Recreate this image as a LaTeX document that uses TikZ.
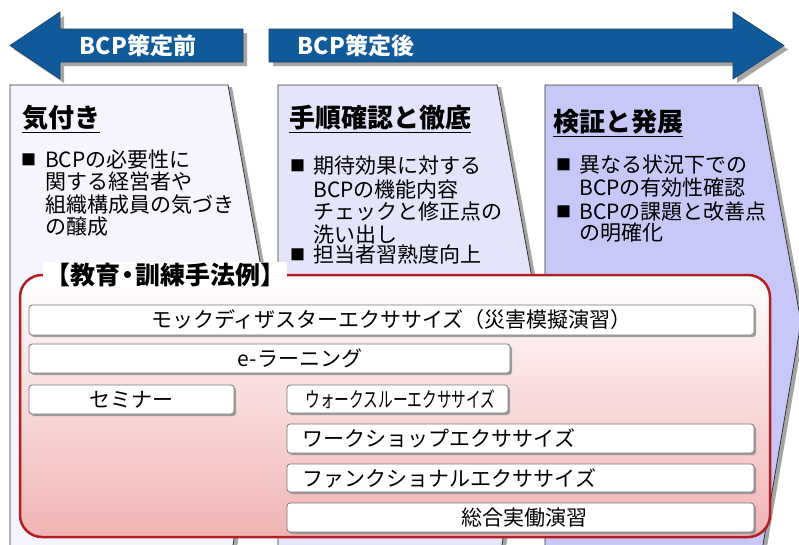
\documentclass[tikz,border=0pt]{standalone}
\usepackage{fontspec}
\usepackage{graphicx}
\setmainfont{Noto Sans CJK JP}
\usetikzlibrary{shadows}
\definecolor{arrowblue}{RGB}{16,90,155}
\definecolor{arrowedge}{RGB}{25,60,105}
\definecolor{shadowgray}{RGB}{165,165,165}
\definecolor{pfillA}{RGB}{245,245,253}
\definecolor{pfillB}{RGB}{228,228,250}
\definecolor{pfillC}{RGB}{200,200,248}
\definecolor{redline}{RGB}{178,30,35}
\definecolor{pinkbot}{RGB}{241,180,180}
\definecolor{pinkmid}{RGB}{249,226,226}
\definecolor{boxedge}{RGB}{120,120,120}
\tikzset{
  bigarrow/.style={fill=arrowblue, draw=arrowedge, line width=0.6pt},
  arrowshadow/.style={fill=shadowgray},
  panel/.style={draw=black!80, line width=0.8pt},
  arrowtext/.style={text=white, font=\fontsize{23}{23}\selectfont\bfseries, inner sep=0pt},
  ptitle/.style={font=\fontsize{26}{26}\selectfont\bfseries, anchor=west, inner sep=0pt},
  pline/.style={font=\fontsize{21}{21}\selectfont, anchor=west, inner sep=0pt},
  pbullet/.style={font=\fontsize{15}{15}\selectfont, anchor=west, inner sep=0pt},
  ibox/.style={draw=boxedge, fill=white, line width=0.8pt, rounded corners=3pt, inner sep=0pt,
    drop shadow={shadow xshift=2pt, shadow yshift=-2pt, fill=black!45, opacity=0.8}},
  itext/.style={font=\fontsize{21}{21}\selectfont, inner sep=0pt},
}
\begin{document}
\begin{tikzpicture}[x=1pt,y=-1pt]
\clip (0,0) rectangle (799,544);
% ---- big arrows
\fill[arrowshadow, shift={(4,4)}] (10,45.5) -- (60,12) -- (60,29) -- (243,29) -- (243,62) -- (60,62) -- (60,79) -- cycle;
\path[bigarrow] (10,45.5) -- (60,12) -- (60,29) -- (243,29) -- (243,62) -- (60,62) -- (60,79) -- cycle;
\fill[arrowshadow, shift={(4,4)}] (269,29) -- (733,29) -- (733,12) -- (784,45.5) -- (733,79) -- (733,62) -- (269,62) -- cycle;
\path[bigarrow] (269,29) -- (733,29) -- (733,12) -- (784,45.5) -- (733,79) -- (733,62) -- (269,62) -- cycle;
\node[arrowtext] (before) at (138,46) {BCP策定前};
\node[arrowtext] (after) at (356,46) {BCP策定後};
% ---- panels
\fill[shadowgray, shift={(4,2)}] (10,85) -- (228,85) -- (271,322) -- (227,580) -- (10,580) -- cycle;
\path[panel, fill=pfillA] (10,85) -- (228,85) -- (271,322) -- (227,580) -- (10,580) -- cycle;
\fill[shadowgray, shift={(4,2)}] (278,85) -- (497,85) -- (540,322) -- (496,580) -- (278,580) -- cycle;
\path[panel, fill=pfillB] (278,85) -- (497,85) -- (540,322) -- (496,580) -- (278,580) -- cycle;
\fill[shadowgray, shift={(4,2)}] (545,85) -- (758,85) -- (801,322) -- (757,580) -- (545,580) -- cycle;
\path[panel, fill=pfillC] (545,85) -- (758,85) -- (801,322) -- (757,580) -- (545,580) -- cycle;
% panel titles
\node[ptitle] (t1) at (22,118) {気付き};
\draw[line width=0.8pt] ([yshift=-2pt]t1.south west) -- ([yshift=-2pt]t1.south east);
\node[ptitle] (t2) at (289,118) {手順確認と徹底};
\draw[line width=0.8pt] ([yshift=-2pt]t2.south west) -- ([yshift=-2pt]t2.south east);
\node[ptitle] (t3) at (553,122) {検証と発展};
\draw[line width=0.8pt] ([yshift=-2pt]t3.south west) -- ([yshift=-2pt]t3.south east);
% panel 1 text
\node[pbullet] (p1b1) at (21,160) {■};
\node[pline] (p1l1) at (45,160) {BCPの必要性に};
\node[pline] (p1l2) at (45,182) {関する経営者や};
\node[pline] (p1l3) at (45,205) {組織構成員の気づき};
\node[pline] (p1l4) at (45,227) {の醸成};
% panel 2 text
\node[pbullet] (p2b1) at (290,166) {■};
\node[pline] (p2l1) at (313,166) {期待効果に対する};
\node[pline] (p2l2) at (313,189.5) {BCPの機能内容};
\node[pline] (p2l3) at (313,212) {チェックと修正点の};
\node[pline] (p2l4) at (313,234.5) {洗い出し};
\node[pbullet] (p2b2) at (290,255) {■};
\node[pline] (p2l5) at (313,255) {担当者習熟度向上};
% panel 3 text
\node[pbullet] (p3b1) at (556,165) {■};
\node[pline] (p3l1) at (579,165) {異なる状況下での};
\node[pline] (p3l2) at (579,188) {BCPの有効性確認};
\node[pbullet] (p3b2) at (556,212) {■};
\node[pline] (p3l3) at (579,212) {BCPの課題と改善点};
\node[pline] (p3l4) at (579,233) {の明確化};
% ---- red frame
\path[draw=redline, line width=2.5pt, rounded corners=22pt, top color=white, middle color=pinkmid, bottom color=pinkbot]
  (20,275) rectangle (770,537);
\node[fill=white, inner xsep=2pt, inner ysep=1pt, font=\fontsize{25}{25}\selectfont\bfseries] (lbl) at (165,275) {【教育\hspace{-0.2em}・\hspace{-0.2em}訓練手法例】};
% ---- inner boxes
\node[ibox, minimum width=725pt, minimum height=30pt] (b1) at (391.5,320) {};
\node[ibox, minimum width=481pt, minimum height=29pt] (b2) at (269.5,358.5) {};
\node[ibox, minimum width=205pt, minimum height=29pt] (b3) at (131.5,399.5) {};
\node[ibox, minimum width=221pt, minimum height=28pt] (b4) at (397.5,399) {};
\node[ibox, minimum width=467pt, minimum height=29pt] (b5) at (520.5,438.5) {};
\node[ibox, minimum width=467pt, minimum height=28pt] (b6) at (520.5,478) {};
\node[ibox, minimum width=467pt, minimum height=29pt] (b7) at (520.5,517.5) {};
\node[itext] (x1) at (b1.center) {モックディザスターエクササイズ（災害模擬演習）};
\node[itext] (x2) at ([xshift=30.5pt]b2.center) {e-ラーニング};
\node[itext] (x3) at (b3.center) {セミナー};
\node[itext] (x4) at ([xshift=3pt]b4.center) {\scalebox{0.7}[1]{ウォークスルーエクササイズ}};
\node[itext, anchor=west] (x5) at ([xshift=16pt]b5.west) {ワークショップエクササイズ};
\node[itext, anchor=west] (x6) at ([xshift=16pt]b6.west) {ファンクショナルエクササイズ};
\node[itext] (x7) at ([xshift=3.5pt]b7.center) {総合実働演習};
\end{tikzpicture}
\end{document}
